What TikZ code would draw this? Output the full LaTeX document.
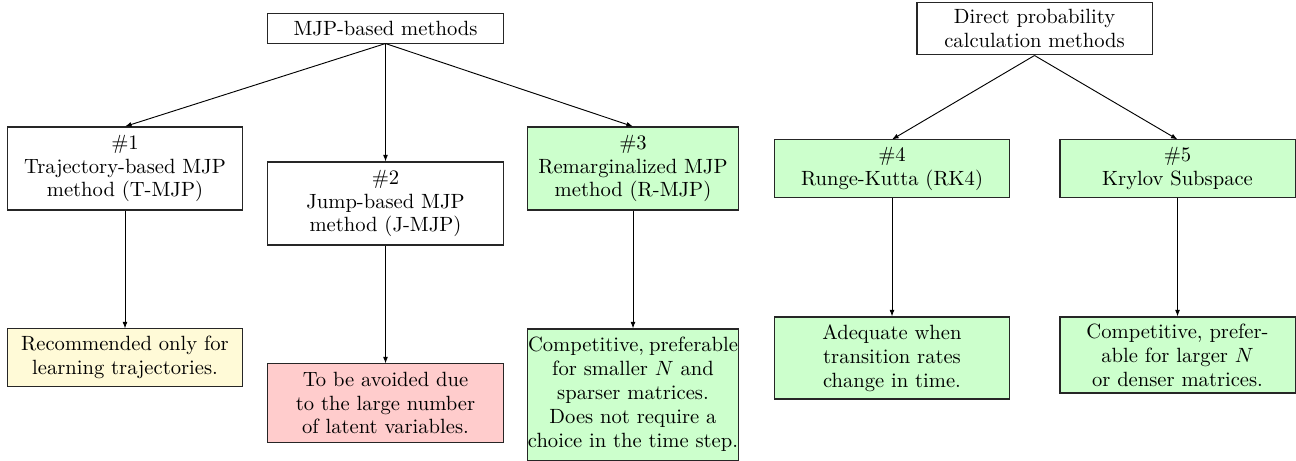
\documentclass[tikz,border=0pt]{standalone}
\usetikzlibrary{arrows.meta}
\definecolor{cream}{RGB}{255,250,215}
\tikzset{
  box/.style={draw=black!85, line width=0.5pt, align=center, inner sep=2pt,
    font=\fontsize{10}{11.6}\selectfont, minimum width=114.1pt},
  okbox/.style={box, fill=green!20},
  badbox/.style={box, fill=red!20},
  midbox/.style={box, fill=cream},
  narrow/.style={inner xsep=0pt, minimum width=102.5pt},
  conn/.style={-{Latex[length=3.2pt,width=2.4pt]}, line width=0.45pt}
}
\begin{document}
\begin{tikzpicture}[x=0.4854pt, y=-0.4854pt]
\useasboundingbox (0,0) rectangle (1296,461);
\node[box, minimum height=14.1pt] (mjp) at (385.5,28.5) {MJP-based methods};
\node[box, minimum height=25.7pt] (dir) at (1034.5,28.5) {Direct probability\\calculation methods};

\node[box, minimum height=40.3pt] (n1) at (125,168.5) {\#1\\Trajectory-based MJP\\method (T-MJP)};
\node[box, minimum height=40.3pt] (n2) at (385.5,203.5) {\#2\\Jump-based MJP\\method (J-MJP)};
\node[okbox, narrow, minimum height=40.3pt] (n3) at (633,168.5) {\#3\\Remarginalized MJP\\method (R-MJP)};
\node[okbox, minimum height=27.7pt] (n4) at (892,168.5) {\#4\\Runge-Kutta (RK4)};
\node[okbox, minimum height=27.7pt] (n5) at (1177.5,168.5) {\#5\\Krylov Subspace};

\node[midbox, minimum height=27.7pt] (r1) at (125,357.5) {Recommended only for\\learning trajectories.};
\node[badbox, minimum height=37.9pt] (r2) at (385.5,403) {To be avoided due\\to the large number\\of latent variables.};
\node[okbox, narrow, minimum height=63.6pt] (r3) at (633,394.5) {Competitive,\hspace{2.4pt}preferable\\for smaller $N$ and\\sparser matrices.\\Does not require a\\choice in the time step.};
\node[okbox, minimum height=39.8pt] (r4) at (892,358) {Adequate when\\transition rates\\change in time.};
\node[okbox, minimum height=36.9pt] (r5) at (1177.5,355) {Competitive, prefer-\\able for larger $N$\\or denser matrices.};

\draw[conn] (mjp.south) -- (n1.north);
\draw[conn] (mjp.south) -- (n2.north);
\draw[conn] (mjp.south) -- (n3.north);
\draw[conn] (dir.south) -- (n4.north);
\draw[conn] (dir.south) -- (n5.north);
\draw[conn] (n1) -- (r1);
\draw[conn] (n2) -- (r2);
\draw[conn] (n3) -- (r3);
\draw[conn] (n4) -- (r4);
\draw[conn] (n5) -- (r5);
\end{tikzpicture}
\end{document}
